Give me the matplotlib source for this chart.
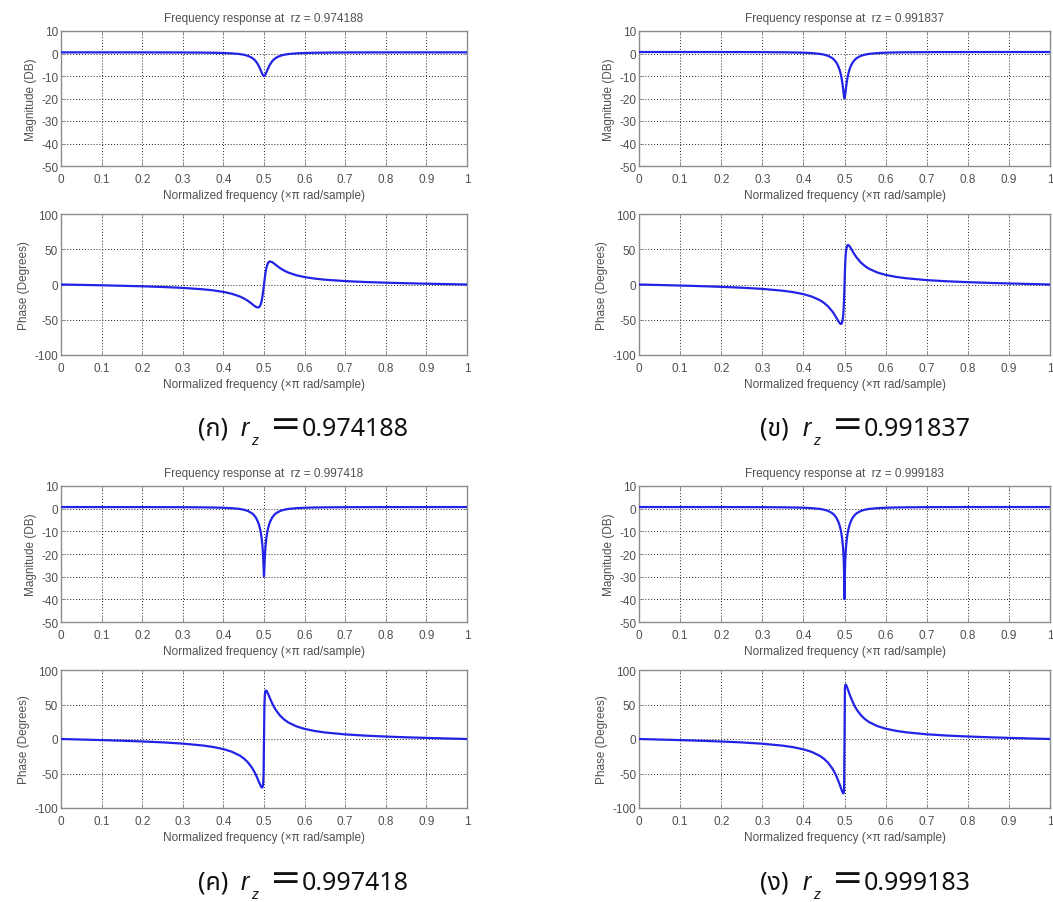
import matplotlib
matplotlib.use("Agg")
import matplotlib.pyplot as plt
from matplotlib import font_manager as fm
from matplotlib.ft2font import FT2Font

# ---------------- data ----------------
freq = [0, 0.05, 0.1, 0.15, 0.2, 0.25, 0.3, 0.35, 0.375, 0.4, 0.42, 0.44, 0.45,
        0.46, 0.47, 0.475, 0.48, 0.485, 0.4875, 0.49, 0.492, 0.494, 0.496, 0.497,
        0.498, 0.499, 0.5, 0.501, 0.502, 0.503, 0.504, 0.506, 0.508, 0.51, 0.5125,
        0.515, 0.52, 0.525, 0.53, 0.54, 0.55, 0.56, 0.58, 0.6, 0.625, 0.65, 0.7,
        0.75, 0.8, 0.85, 0.9, 0.95, 1.0]

rz_values = ["0.974188", "0.991837", "0.997418", "0.999183"]
caption_marks = ["(ก)", "(ข)", "(ค)", "(ง)"]

mag_a = [0.51, 0.51, 0.50, 0.50, 0.49, 0.48, 0.45, 0.39, 0.33, 0.23, 0.07, -0.25, -0.54,
         -1.02, -1.87, -2.54, -3.49, -4.82, -5.67, -6.65, -7.50, -8.38, -9.19, -9.52,
         -9.78, -9.95, -10.00, -9.95, -9.78, -9.52, -9.19, -8.38, -7.50, -6.65, -5.67,
         -4.82, -3.49, -2.54, -1.87, -1.02, -0.54, -0.25, 0.07, 0.23, 0.33, 0.39, 0.45,
         0.48, 0.49, 0.50, 0.50, 0.51, 0.51]
phase_a = [0, -0.56, -1.14, -1.80, -2.56, -3.51, -4.82, -6.83, -8.34, -10.50, -13.04,
           -16.87, -19.59, -23.07, -27.38, -29.70, -31.77, -32.71, -32.22, -30.52,
           -27.87, -23.65, -17.51, -13.69, -9.41, -4.80, 0, 4.80, 9.41, 13.69, 17.51,
           23.65, 27.87, 30.52, 32.22, 32.71, 31.77, 29.70, 27.38, 23.07, 19.59, 16.87,
           13.04, 10.50, 8.34, 6.83, 4.82, 3.51, 2.56, 1.80, 1.14, 0.56, 0]

mag_b = [0.66, 0.66, 0.66, 0.65, 0.64, 0.63, 0.60, 0.53, 0.47, 0.36, 0.19, -0.17, -0.49,
         -1.03, -2.00, -2.80, -3.95, -5.70, -6.92, -8.49, -10.10, -12.14, -14.76, -16.32,
         -17.94, -19.34, -19.93, -19.34, -17.94, -16.32, -14.76, -12.14, -10.10, -8.49,
         -6.92, -5.70, -3.95, -2.80, -2.00, -1.03, -0.49, -0.17, 0.19, 0.36, 0.47, 0.53,
         0.60, 0.63, 0.64, 0.65, 0.66, 0.66, 0.66]
phase_b = [0, -0.73, -1.48, -2.32, -3.31, -4.54, -6.23, -8.84, -10.81, -13.66, -17.02,
           -22.22, -26.01, -31.05, -37.88, -42.13, -46.92, -51.86, -54.08, -55.66,
           -55.94, -54.36, -48.73, -42.85, -33.38, -18.92, 0, 18.92, 33.38, 42.85,
           48.73, 54.36, 55.94, 55.66, 54.08, 51.86, 46.92, 42.13, 37.88, 31.05, 26.01,
           22.22, 17.02, 13.66, 10.81, 8.84, 6.23, 4.54, 3.31, 2.32, 1.48, 0.73, 0]

mag_c = [0.71, 0.71, 0.70, 0.70, 0.69, 0.67, 0.65, 0.58, 0.52, 0.40, 0.23, -0.12, -0.45,
         -1.00, -1.98, -2.79, -3.97, -5.77, -7.04, -8.70, -10.44, -12.76, -16.07, -18.40,
         -21.53, -25.97, -29.90, -25.97, -21.53, -18.40, -16.07, -12.76, -10.44, -8.70,
         -7.04, -5.77, -3.97, -2.79, -1.98, -1.00, -0.45, -0.12, 0.23, 0.40, 0.52, 0.58,
         0.65, 0.67, 0.69, 0.70, 0.70, 0.71, 0.71]
phase_c = [0, -0.78, -1.58, -2.48, -3.54, -4.86, -6.68, -9.47, -11.59, -14.65, -18.27,
           -23.90, -28.03, -33.59, -41.27, -46.20, -51.99, -58.58, -62.10, -65.58,
           -68.13, -70.05, -70.22, -68.52, -63.53, -48.50, 0, 48.50, 63.53, 68.52,
           70.22, 70.05, 68.13, 65.58, 62.10, 58.58, 51.99, 46.20, 41.27, 33.59, 28.03,
           23.90, 18.27, 14.65, 11.59, 9.47, 6.68, 4.86, 3.54, 2.48, 1.58, 0.78, 0]

mag_d = [0.72, 0.72, 0.72, 0.71, 0.71, 0.69, 0.66, 0.60, 0.53, 0.42, 0.24, -0.11, -0.44,
         -0.98, -1.97, -2.78, -3.96, -5.77, -7.04, -8.71, -10.47, -12.82, -16.22, -18.67,
         -22.12, -27.91, -39.89, -27.91, -22.12, -18.67, -16.22, -12.82, -10.47, -8.71,
         -7.04, -5.77, -3.96, -2.78, -1.97, -0.98, -0.44, -0.11, 0.24, 0.42, 0.53, 0.60,
         0.66, 0.69, 0.71, 0.71, 0.72, 0.72, 0.72]
phase_d = [0, -0.80, -1.61, -2.54, -3.62, -4.96, -6.82, -9.67, -11.84, -14.96, -18.67,
           -24.43, -28.67, -34.39, -42.34, -47.49, -53.60, -60.73, -64.67, -68.79,
           -72.14, -75.38, -78.12, -78.91, -78.49, -73.37, 0, 73.37, 78.49, 78.91,
           78.12, 75.38, 72.14, 68.79, 64.67, 60.73, 53.60, 47.49, 42.34, 34.39, 28.67,
           24.43, 18.67, 14.96, 11.84, 9.67, 6.82, 4.96, 3.62, 2.54, 1.61, 0.80, 0]

x_ticks = [0, 0.1, 0.2, 0.3, 0.4, 0.5, 0.6, 0.7, 0.8, 0.9, 1]
x_ticklabels = ["0", "0.1", "0.2", "0.3", "0.4", "0.5", "0.6", "0.7", "0.8", "0.9", "1"]
mag_ticks = [10, 0, -10, -20, -30, -40, -50]
phase_ticks = [100, 50, 0, -50, -100]

mags = [mag_a, mag_b, mag_c, mag_d]
phases = [phase_a, phase_b, phase_c, phase_d]

# ---------------- fonts ----------------
def find_thai_font():
    prefer = ["Noto Sans Thai", "Noto Sans Thai Looped", "Noto Serif Thai", "Loma",
              "Garuda", "Norasi", "Kinnari", "Tlwg Typo", "Sawasdee", "Umpush",
              "Noto Sans", "DejaVu Sans"]
    found = []
    for f in fm.fontManager.ttflist:
        try:
            if ord("ก") in FT2Font(f.fname).get_charmap():
                found.append(f.name)
        except Exception:
            pass
    for p in prefer:
        if p in found:
            return p
    return found[0] if found else "DejaVu Sans"

thai_font = find_thai_font()
ui_font = ["Liberation Sans", "DejaVu Sans"]
plt.rcParams["font.family"] = ui_font
plt.rcParams["axes.unicode_minus"] = False

W, H = 1053, 903
fig = plt.figure(figsize=(W / 100, H / 100), dpi=100)
fig.patch.set_facecolor("white")

def rect(l, t, r, b):
    return [l / W, 1 - b / H, (r - l) / W, (b - t) / H]

cols = [(61, 467), (639, 1050)]
rows = [((32, 167), (215, 356)), ((487, 623), (671, 809))]

text_col = "#505050"
frame_col = "#8c8c8c"
line_col = "#2323e6"

def style_axes(ax, yticks, ylim, ylabel):
    ax.set_xlim(0, 1)
    ax.set_ylim(*ylim)
    ax.set_xticks(x_ticks)
    ax.set_xticklabels(x_ticklabels)
    ax.set_yticks(yticks)
    ax.tick_params(direction="in", length=3, width=0.7, colors=frame_col,
                   labelcolor=text_col, labelsize=8.5, top=True, right=True)
    ax.tick_params(axis="x", pad=5)
    ax.tick_params(axis="y", pad=2)
    for s in ax.spines.values():
        s.set_color(frame_col)
        s.set_linewidth(1.0)
    ax.grid(True, color="#222222", linestyle=(0, (1, 2)), linewidth=0.7)
    ax.set_xlabel("Normalized frequency (\u00d7\u03c0 rad/sample)", fontsize=8.5,
                  color=text_col, labelpad=3)
    ax.set_ylabel(ylabel, fontsize=8.5, color=text_col, labelpad=3)

cap_col = "#111111"
for i in range(4):
    r_i, c_i = divmod(i, 2)
    l, r = cols[c_i]
    (mt, mb), (pt, pb) = rows[r_i]
    axm = fig.add_axes(rect(l, mt, r, mb))
    axm.plot(freq, mags[i], color=line_col, linewidth=1.6, zorder=3)
    style_axes(axm, mag_ticks, (-50, 10), "Magnitude (DB)")
    axm.set_title("Frequency response at  rz = " + rz_values[i], fontsize=8.5,
                  color=text_col, pad=7)

    axp = fig.add_axes(rect(l, pt, r, pb))
    axp.plot(freq, phases[i], color=line_col, linewidth=1.6, zorder=3)
    style_axes(axp, phase_ticks, (-100, 100), "Phase (Degrees)")

    # caption  (x) r_z = value
    x0 = 198 if c_i == 0 else 760
    yb = 436 if r_i == 0 else 890
    fs = 18
    fig.text(x0 / W, 1 - yb / H, caption_marks[i], fontsize=fs,
             family=[thai_font, "DejaVu Sans"], color=cap_col, va="baseline")
    fig.text((x0 + 43) / W, 1 - yb / H, "r", fontsize=fs, style="italic",
             family=["Liberation Sans", "DejaVu Sans"], color=cap_col, va="baseline")
    fig.text((x0 + 53) / W, 1 - (yb + 9) / H, "z", fontsize=10, style="italic",
             family=["Liberation Sans", "DejaVu Sans"], color=cap_col, va="baseline")
    fig.text((x0 + 72) / W, 1 - (yb - 1) / H, "=", fontsize=27,
             family=["DejaVu Sans"], color=cap_col, va="baseline")
    fig.text((x0 + 104) / W, 1 - yb / H, rz_values[i], fontsize=fs,
             family=[thai_font, "DejaVu Sans"], color=cap_col, va="baseline")

fig.savefig("out.png", dpi=100, facecolor="white")
